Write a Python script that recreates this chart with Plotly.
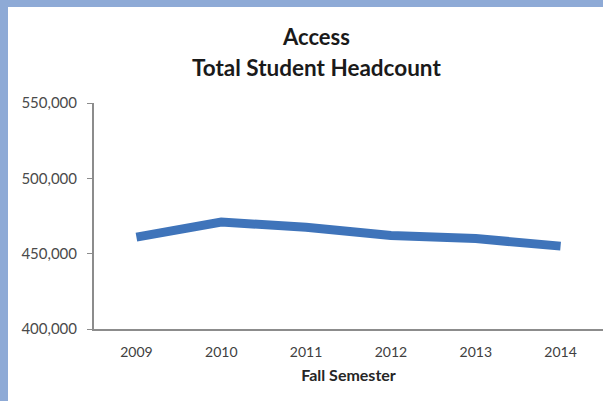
import plotly.graph_objects as go

years = ["2009", "2010", "2011", "2012", "2013", "2014"]
headcount = [461000, 471000, 467500, 462000, 460000, 455000]
y_ticks = [400000, 450000, 500000, 550000]
y_tick_labels = ["400,000", "450,000", "500,000", "550,000"]

W, H = 603, 401
L, R, T, B = 94, 0, 103, 72
pw, ph = W - L - R, H - T - B

fig = go.Figure()
fig.add_trace(go.Scatter(
    x=years, y=headcount, mode="lines",
    line=dict(color="#3F74BA", width=9),
    hoverinfo="skip", showlegend=False,
))

font_family = "Lato, 'Open Sans', sans-serif"

fig.update_layout(
    width=W, height=H,
    margin=dict(l=L, r=R, t=T, b=B),
    paper_bgcolor="white", plot_bgcolor="white",
    font=dict(family=font_family, color="#404040"),
    showlegend=False,
    xaxis=dict(
        type="category", range=[-0.5, 5.5],
        showline=True, linecolor="#8C8C8C", linewidth=2,
        ticks="", showgrid=False, zeroline=False,
        tickfont=dict(size=14, color="#404040"),
        ticklabelstandoff=9,
        title=dict(text="<b>Fall Semester</b>", font=dict(size=16, color="#262626"), standoff=11),
    ),
    yaxis=dict(
        range=[400000, 550000], tickvals=y_ticks, ticktext=y_tick_labels,
        showline=True, linecolor="#8C8C8C", linewidth=2,
        ticks="outside", ticklen=5, tickcolor="#8C8C8C", tickwidth=1,
        showgrid=False, zeroline=False,
        tickfont=dict(size=15, color="#4a4a4a"),
        ticklabelstandoff=7,
    ),
    annotations=[
        dict(text="<b>Access</b>", x=(316 - L) / pw, y=1 + (T - 36) / ph,
             xref="paper", yref="paper", showarrow=False,
             font=dict(size=22, color="#1a1a1a"), xanchor="center", yanchor="middle"),
        dict(text="<b>Total Student Headcount</b>", x=(316 - L) / pw, y=1 + (T - 67) / ph,
             xref="paper", yref="paper", showarrow=False,
             font=dict(size=22.5, color="#1a1a1a"), xanchor="center", yanchor="middle"),
    ],
    shapes=[
        dict(type="rect", xref="paper", yref="paper",
             x0=-L / pw, x1=-(L - 8) / pw, y0=-B / ph, y1=1 + T / ph,
             fillcolor="#8EAAD6", line=dict(width=0), layer="above"),
        dict(type="rect", xref="paper", yref="paper",
             x0=-L / pw, x1=1, y0=1 + (T - 7) / ph, y1=1 + T / ph,
             fillcolor="#8EAAD6", line=dict(width=0), layer="above"),
    ],
)

fig.write_html(
    "out.html",
    config={"displayModeBar": False},
    post_script="document.body.style.margin='0';document.body.style.overflow='hidden';",
)
